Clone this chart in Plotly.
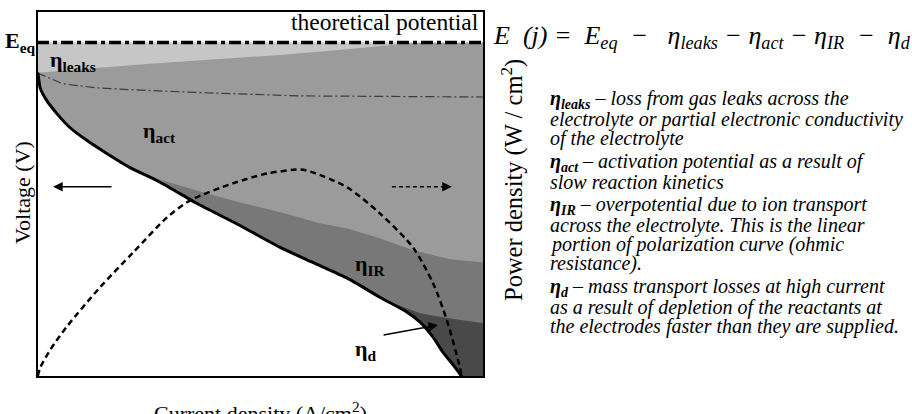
import plotly.graph_objects as go

# ---------------- data (normalised units: current density j, voltage V, power P) -------------
E_EQ = 0.914

# polarisation curve V(j)
pol_j = [0.000, 0.002, 0.007, 0.022, 0.045, 0.074, 0.112, 0.157, 0.208, 0.268, 0.320, 0.358,
         0.454, 0.544, 0.617, 0.694, 0.767, 0.828, 0.857, 0.886, 0.908, 0.931, 0.951]
pol_v = [0.831, 0.828, 0.790, 0.755, 0.719, 0.681, 0.646, 0.610, 0.572, 0.537, 0.501, 0.474,
         0.414, 0.354, 0.313, 0.270, 0.218, 0.177, 0.150, 0.109, 0.068, 0.033, 0.000]

# boundary E_eq - eta_leaks
leak_j = [0.000, 0.253, 0.544, 0.700, 0.834, 1.000]
leak_v = [0.831, 0.856, 0.880, 0.896, 0.912, 0.914]

# thin dash-dot reference line
ref_j = [0.000, 0.058, 0.134, 0.208, 0.365, 0.588, 1.000]
ref_v = [0.831, 0.801, 0.790, 0.785, 0.777, 0.768, 0.765]

# boundary eta_act / eta_IR
act_j = [0.208, 0.268, 0.365, 0.454, 0.544, 0.633, 0.694, 0.767, 0.841, 0.924, 1.000]
act_v = [0.572, 0.542, 0.507, 0.477, 0.450, 0.420, 0.406, 0.379, 0.346, 0.322, 0.313]

# boundary eta_IR / eta_d
ir_j = [0.779, 0.857, 0.917, 1.000]
ir_v = [0.210, 0.174, 0.161, 0.147]

# power density curve P(j)
pow_j = [0.002, 0.007, 0.030, 0.067, 0.141, 0.215, 0.291, 0.342, 0.438, 0.515, 0.588, 0.617,
         0.694, 0.767, 0.841, 0.886, 0.917, 0.946, 0.951]
pow_p = [0.003, 0.025, 0.075, 0.138, 0.245, 0.340, 0.436, 0.482, 0.529, 0.556, 0.567, 0.559,
         0.518, 0.447, 0.354, 0.256, 0.155, 0.027, 0.000]

# arrows: (tail j, tail V) -> (head j, head V)
arrow_voltage = [(0.170, 0.520), (0.036, 0.520)]
arrow_power = [(0.794, 0.520), (0.928, 0.520)]
arrow_d = [(0.772, 0.114), (0.897, 0.142)]

region_labels = [
    ("<b>η<sub>leaks</sub></b>", 0.025, 0.864),
    ("<b>η<sub>act</sub></b>", 0.233, 0.670),
    ("<b>η<sub>IR</sub></b>", 0.707, 0.305),
    ("<b>η<sub>d</sub></b>", 0.707, 0.074),
]

NB = "\u00a0"
equation = ("E" + NB * 2 + "(j)" + NB + "=" + NB * 2 + "E<sub>eq</sub>" + NB * 2 + "−" + NB * 3
            + "η<sub>leaks</sub>" + NB + "−" + NB + "η<sub>act</sub>" + NB + "−" + NB
            + "η<sub>IR</sub>" + NB * 2 + "−" + NB * 2 + "η<sub>d</sub>")

paragraphs = [
    ["<b>η<sub>leaks</sub></b> – loss from gas leaks across the",
     "electrolyte or partial electronic conductivity",
     "of the electrolyte"],
    ["<b>η<sub>act</sub></b> – activation potential as a result of",
     "slow reaction kinetics"],
    ["<b>η<sub>IR</sub></b> – overpotential due to ion transport",
     "across the electrolyte. This is the linear",
     "portion of polarization curve (ohmic",
     "resistance)."],
    ["<b>η<sub>d</sub></b> – mass transport losses at high current",
     "as a result of depletion of the reactants at",
     "the electrodes faster than they are supplied."],
]

# ---------------- figure -------------
W, H = 912, 414
X0, X1 = 37, 484      # plot box pixel edges
Y0, Y1 = 11, 377
SERIF = "Liberation Serif, Times New Roman, DejaVu Serif, serif"

fig = go.Figure()


def region(top_j, top_v):
    j0 = top_j[0]
    cj = [j for j in pol_j if j > j0 + 1e-9]
    cv = [v for j, v in zip(pol_j, pol_v) if j > j0 + 1e-9]
    xs = list(top_j) + [1.0] + cj[::-1]
    ys = list(top_v) + [0.0] + cv[::-1]
    return xs, ys


layers = [
    (([0.0, 1.0], [E_EQ, E_EQ]), "#c6c6c6"),
    ((leak_j, leak_v), "#9b9b9b"),
    ((act_j, act_v), "#787878"),
    ((ir_j, ir_v), "#494949"),
]
for (tj, tv), col in layers:
    xs, ys = region(tj, tv)
    fig.add_trace(go.Scatter(x=xs, y=ys, fill="toself", fillcolor=col, mode="lines",
                             line=dict(width=0, color=col), hoverinfo="skip", showlegend=False))

fig.add_trace(go.Scatter(x=ref_j, y=ref_v, mode="lines", hoverinfo="skip", showlegend=False,
                         line=dict(color="#3c3c3c", width=1.2, dash="9px,3px,2px,3px")))
fig.add_trace(go.Scatter(x=pol_j, y=pol_v, mode="lines", hoverinfo="skip", showlegend=False,
                         line=dict(color="black", width=3, shape="spline", smoothing=0.6)))
fig.add_trace(go.Scatter(x=pow_j, y=pow_p, yaxis="y2", mode="lines", hoverinfo="skip",
                         showlegend=False,
                         line=dict(color="black", width=2.5, dash="6px,4px", shape="spline",
                                   smoothing=0.8)))
fig.add_trace(go.Scatter(x=[0.0, 1.0], y=[E_EQ, E_EQ], mode="lines", hoverinfo="skip",
                         showlegend=False,
                         line=dict(color="black", width=3.5, dash="12px,4px,4px,4px")))
# dashed shaft of the power arrow
fig.add_trace(go.Scatter(x=[arrow_power[0][0], arrow_power[1][0] - 0.02],
                         y=[arrow_power[0][1], arrow_power[1][1]], mode="lines",
                         hoverinfo="skip", showlegend=False,
                         line=dict(color="black", width=1.5, dash="4px,3px")))

ann = []
# arrows
ann.append(dict(x=arrow_voltage[1][0], y=arrow_voltage[1][1], ax=arrow_voltage[0][0],
                ay=arrow_voltage[0][1], xref="x", yref="y", axref="x", ayref="y", text="",
                showarrow=True, arrowhead=2, arrowsize=1.2, arrowwidth=1.6, arrowcolor="black"))
ann.append(dict(x=arrow_power[1][0], y=arrow_power[1][1], ax=arrow_power[1][0] - 0.025,
                ay=arrow_power[1][1], xref="x", yref="y", axref="x", ayref="y", text="",
                showarrow=True, arrowhead=2, arrowsize=1.2, arrowwidth=1.6, arrowcolor="black"))
ann.append(dict(x=arrow_d[1][0], y=arrow_d[1][1], ax=arrow_d[0][0], ay=arrow_d[0][1],
                xref="x", yref="y", axref="x", ayref="y", text="", showarrow=True,
                arrowhead=2, arrowsize=1.2, arrowwidth=1.6, arrowcolor="black"))

for txt, xj, yv in region_labels:
    ann.append(dict(x=xj, y=yv, xref="x", yref="y", text=txt, showarrow=False,
                    xanchor="left", yanchor="middle",
                    font=dict(family=SERIF, size=22, color="black")))

# E_eq label
ann.append(dict(x=3 / W, y=E_EQ, xref="paper", yref="y", text="<b>E<sub>eq</sub></b>",
                showarrow=False, xanchor="left", yanchor="middle",
                font=dict(family=SERIF, size=22, color="black")))
# theoretical potential
ann.append(dict(x=481 / W, y=1 - 22 / H, xref="paper", yref="paper",
                text="theoretical potential", showarrow=False, xanchor="right",
                yanchor="middle", font=dict(family=SERIF, size=23.5, color="black")))
# axis titles
ann.append(dict(x=22 / W, y=1 - 193 / H, xref="paper", yref="paper", text="Voltage (V)",
                textangle=-90, showarrow=False, xanchor="center", yanchor="middle",
                font=dict(family=SERIF, size=22, color="black")))
ann.append(dict(x=513 / W, y=1 - 180 / H, xref="paper", yref="paper",
                text="Power density (W / cm<sup>2</sup>)", textangle=-90, showarrow=False,
                xanchor="center", yanchor="middle",
                font=dict(family=SERIF, size=24.5, color="black")))
ann.append(dict(x=260 / W, y=1 - 396 / H, xref="paper", yref="paper",
                text="Current density (A/cm<sup>2</sup>)", showarrow=False,
                xanchor="center", yanchor="top",
                font=dict(family=SERIF, size=22, color="black")))
# equation
ann.append(dict(x=491 / W, y=1 - 37 / H, xref="paper", yref="paper",
                text="<i>" + equation + "</i>", showarrow=False, xanchor="left",
                yanchor="middle", font=dict(family=SERIF, size=26, color="black")))
# description block
line_idx = 0
for p_i, lines in enumerate(paragraphs):
    for ln in lines:
        py = 100 + 19.3 * line_idx + 4.7 * p_i
        ann.append(dict(x=548 / W, y=1 - py / H, xref="paper", yref="paper",
                        text="<i>" + ln + "</i>", showarrow=False, xanchor="left",
                        yanchor="middle", font=dict(family=SERIF, size=20, color="black")))
        line_idx += 1

fig.update_layout(
    width=W, height=H, margin=dict(l=0, r=0, t=0, b=0),
    paper_bgcolor="white", plot_bgcolor="white",
    font=dict(family=SERIF),
    xaxis=dict(domain=[X0 / W, X1 / W], range=[0, 1], visible=False),
    yaxis=dict(domain=[1 - Y1 / H, 1 - Y0 / H], range=[0, 1], visible=False),
    yaxis2=dict(overlaying="y", range=[0, 1], visible=False, side="right"),
    annotations=ann,
    shapes=[dict(type="rect", xref="paper", yref="paper", x0=X0 / W, x1=X1 / W,
                 y0=1 - Y1 / H, y1=1 - Y0 / H, line=dict(color="black", width=2),
                 layer="above")],
    showlegend=False,
)

fig.write_html("out.html")
